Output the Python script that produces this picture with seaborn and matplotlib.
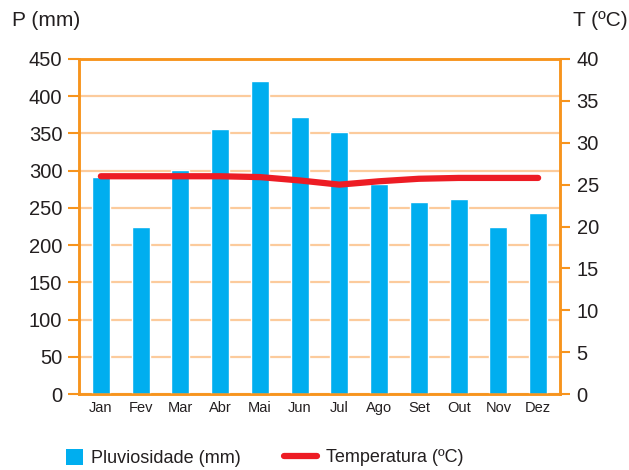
import numpy as np
import pandas as pd
import matplotlib
matplotlib.use("Agg")
import matplotlib.pyplot as plt
import seaborn as sns
from matplotlib.patches import Patch
from matplotlib.lines import Line2D

sns.set_theme(style="white")
plt.rcParams["font.family"] = ["Liberation Sans", "DejaVu Sans"]

# data
meses = ["Jan", "Fev", "Mar", "Abr", "Mai", "Jun", "Jul", "Ago", "Set", "Out", "Nov", "Dez"]
chuva = [291, 224, 301, 356, 420, 372, 352, 282, 258, 262, 224, 243]
temp = [26.0, 26.0, 26.0, 26.0, 25.9, 25.5, 25.0, 25.4, 25.7, 25.8, 25.8, 25.8]
p_ticks = list(range(0, 451, 50))
t_ticks = list(range(0, 41, 5))

orange = "#F7941D"
grid_col = "#FCCB9C"
blue = "#00AEEF"
red = "#ED1C24"
txt = "#231F20"

df = pd.DataFrame({"mes": meses, "chuva": chuva, "temp": temp, "pos": np.arange(len(meses))})

fig = plt.figure(figsize=(6.29, 4.70), dpi=100)
ax = fig.add_axes([79 / 629, 1 - 394 / 470, (560 - 79) / 629, (394 - 59) / 470])

# bars - rainfall
sns.barplot(data=df, x="pos", y="chuva", color=blue, saturation=1, width=0.45, ax=ax, zorder=3)
ax.set_xlim(-0.55, len(meses) - 0.45)
ax.set_ylim(0, 450)
ax.set_yticks(p_ticks)
ax.set_xticks(df["pos"])
ax.set_xticklabels(meses, fontsize=10.5, color=txt)
ax.tick_params(axis="y", labelsize=14.5, colors=txt, length=8, width=1.5, direction="out",
               left=True, color=orange, pad=4)
ax.tick_params(axis="x", length=0, pad=5)
for t in ax.get_yticklabels():
    t.set_color(txt)
ax.yaxis.grid(True, color=grid_col, linewidth=1.6, zorder=0)
ax.set_axisbelow(True)
ax.set_xlabel("")
ax.set_ylabel("")
for s in ax.spines.values():
    s.set_color(orange)
    s.set_linewidth(1.8)

# line - temperature
ax2 = ax.twinx()
sns.lineplot(data=df, x="pos", y="temp", color=red, linewidth=4.5, ax=ax2,
             solid_capstyle="round", zorder=5)
ax2.set_ylim(0, 40)
ax2.set_yticks(t_ticks)
ax2.tick_params(axis="y", labelsize=14.5, labelcolor=txt, length=7, width=1.5,
                direction="out", right=True, color=orange, pad=5)
ax2.set_ylabel("")
ax2.set_xlabel("")
for s in ax2.spines.values():
    s.set_color(orange)
    s.set_linewidth(1.8)
ax2.set_xlim(ax.get_xlim())

fig.text(12 / 629, 1 - 21 / 470, "P (mm)", fontsize=15, color=txt, va="center", ha="left")
fig.text(628 / 629, 1 - 21 / 470, "T (ºC)", fontsize=15, color=txt, va="center", ha="right")

# legend
h1 = [Patch(facecolor=blue, edgecolor="none")]
leg1 = fig.legend(h1, ["Pluviosidade (mm)"], loc="center left", bbox_to_anchor=(66 / 629, 1 - 458 / 470),
                  frameon=False, fontsize=13, handlelength=0.95, handleheight=1.05,
                  handletextpad=0.45, borderpad=0, borderaxespad=0)
for t in leg1.get_texts():
    t.set_color(txt)
h2 = [Line2D([0], [0], color=red, linewidth=4.5, solid_capstyle="round")]
leg2 = fig.legend(h2, ["Temperatura (ºC)"], loc="center left", bbox_to_anchor=(284 / 629, 1 - 458 / 470),
                  frameon=False, fontsize=13, handlelength=1.8,
                  handletextpad=0.5, borderpad=0, borderaxespad=0)
for t in leg2.get_texts():
    t.set_color(txt)

fig.savefig("out.png", dpi=100)
